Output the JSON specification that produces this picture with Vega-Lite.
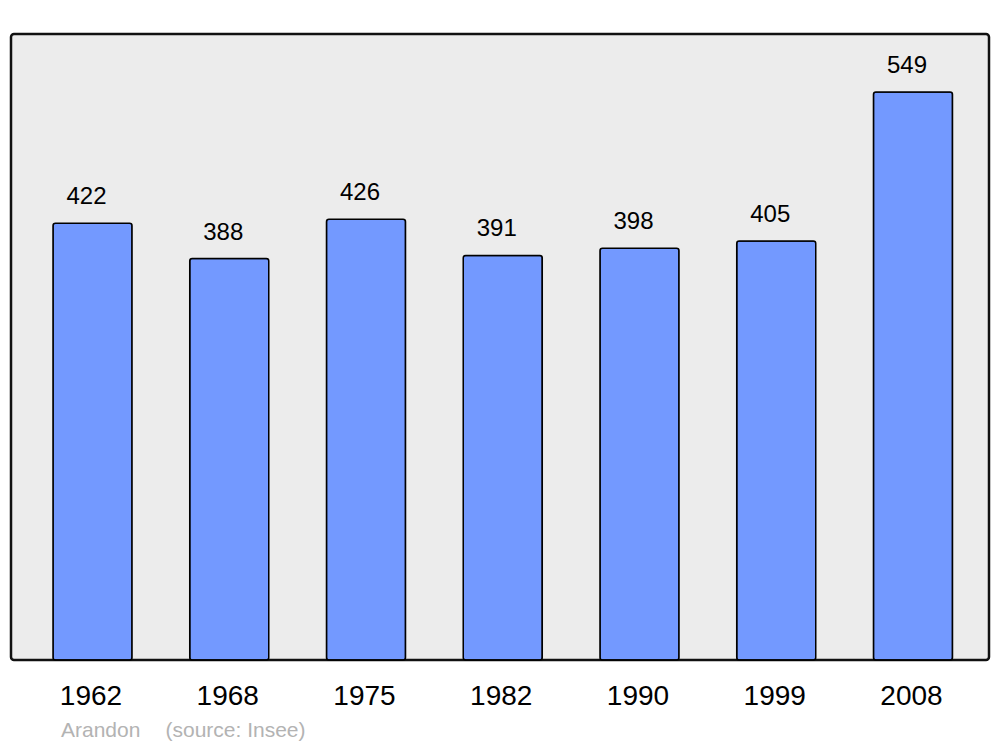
{
  "$schema": "https://vega.github.io/schema/vega-lite/v6.json",
  "width": 978,
  "height": 626,
  "autosize": {"type": "none"},
  "padding": {"left": 11, "top": 34, "right": 11, "bottom": 87},
  "background": "white",
  "config": {
    "font": "Liberation Sans",
    "view": {"fill": "#ececec", "stroke": "#111111", "strokeWidth": 2.5, "cornerRadius": 3}
  },
  "title": {
    "text": "Arandon\u00a0\u00a0\u00a0\u00a0\u200a(source: Insee)",
    "orient": "bottom",
    "anchor": "start",
    "dx": 50,
    "offset": 10,
    "fontSize": 21,
    "fontWeight": "normal",
    "color": "#b3b3b3",
    "font": "Liberation Sans"
  },
  "data": {
    "values": [
      {"year": "1962", "population": 422},
      {"year": "1968", "population": 388},
      {"year": "1975", "population": 426},
      {"year": "1982", "population": 391},
      {"year": "1990", "population": 398},
      {"year": "1999", "population": 405},
      {"year": "2008", "population": 549}
    ]
  },
  "encoding": {
    "x": {
      "field": "year",
      "type": "nominal",
      "sort": null,
      "scale": {"paddingInner": 0.422, "paddingOuter": 0.287, "align": 0.535},
      "axis": {
        "title": null,
        "labelAngle": 0,
        "labelFontSize": 28,
        "labelColor": "black",
        "labelPadding": 22,
        "labelOffset": -1.5,
        "ticks": false,
        "domain": false,
        "grid": false
      }
    },
    "y": {
      "field": "population",
      "type": "quantitative",
      "scale": {"domain": [0, 605], "nice": false},
      "axis": null
    }
  },
  "layer": [
    {
      "mark": {"type": "bar", "fill": "#7399ff", "stroke": "black", "strokeWidth": 1.5, "cornerRadius": 2.5}
    },
    {
      "mark": {"type": "text", "baseline": "bottom", "dy": -14, "dx": -6, "fontSize": 24, "color": "black"},
      "encoding": {"text": {"field": "population", "type": "quantitative"}}
    }
  ]
}
